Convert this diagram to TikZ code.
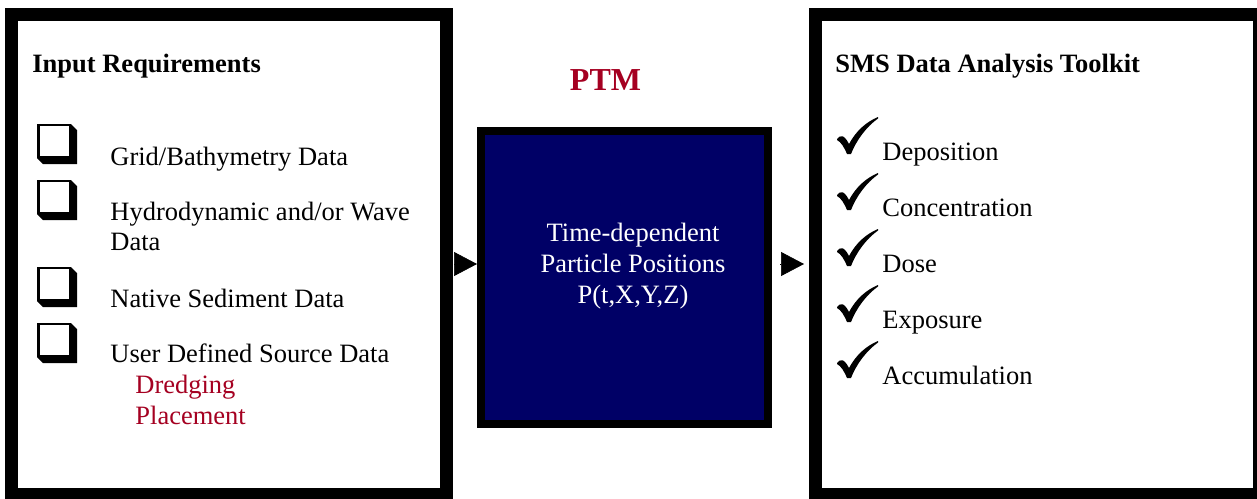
\documentclass[tikz,border=0pt]{standalone}
\usepackage{fontspec}
\setmainfont{Liberation Serif}
\usepackage{tikz}
\usetikzlibrary{arrows.meta}
\definecolor{ptmred}{RGB}{165,0,33}
\definecolor{ptmnavy}{RGB}{0,0,102}
\tikzset{
	panelstyle/.style={rectangle,draw=black,fill=white,line width=6.5pt,minimum height=240pt},
	modelstyle/.style={rectangle,draw=black,fill=ptmnavy,line width=4pt,minimum width=143.5pt,minimum height=146.5pt},
	itemstyle/.style={anchor=base west,inner sep=0pt,font=\fontsize{13.25}{15}\selectfont},
	headstyle/.style={itemstyle,font=\fontsize{13.25}{15}\selectfont\bfseries},
	flowstyle/.style={-{Triangle[length=11.5pt,width=12pt]},line width=0.3pt},
	tickbox/.pic={
		\fill (0,0) -- (34,0) -- (40,6) -- (40,40) -- (6,40) -- (0,34) -- cycle;
		\fill[white] (3,2) rectangle (32,32);
	},
	tickmark/.pic={
		\fill (1,22) .. controls (4,18) and (8,17) .. (13,27) .. controls (20,14) and (30,5) .. (42,0)
			-- (42,1.5) .. controls (30,10) and (20,24) .. (15,37) -- (11,37)
			.. controls (8,30) and (5,25) .. (1,23) -- cycle;
	}
}
\begin{document}
\begin{tikzpicture}[x=0.5pt,y=-0.5pt]
	\useasboundingbox (0,0) rectangle (1257,498);
	\node[panelstyle,minimum width=217.5pt] (input) at (229,254.5) {};
	\node[panelstyle,minimum width=222.25pt] (toolkit) at (1037.25,254.5) {};
	\node[modelstyle] (ptm) at (624.5,277.5) {};
	\node[headstyle] (inputhead) at (32,72) {Input Requirements};
	\node[headstyle] (toolkithead) at (835,72) {SMS Data Analysis Toolkit};
	\node[anchor=base,inner sep=0pt,font=\fontsize{16}{18}\selectfont\bfseries,text=ptmred] (ptmhead) at (605.5,90) {PTM};
	\node[itemstyle,align=center,anchor=base,text=white,font=\fontsize{13.25}{15.5}\selectfont] (ptmtext) at (633,303) {Time-dependent\\Particle Positions\\P(t,X,Y,Z)};
	\pic at (37,124) {tickbox};
	\pic at (37,180) {tickbox};
	\pic at (37,267) {tickbox};
	\pic at (37,323) {tickbox};
	\node[itemstyle] (grid) at (110,165) {Grid/Bathymetry Data};
	\node[itemstyle,align=left] (hydro) at (110,250) {Hydrodynamic and/or Wave\\Data};
	\node[itemstyle] (native) at (110,307) {Native Sediment Data};
	\node[itemstyle] (user) at (110,362) {User Defined Source Data};
	\node[itemstyle,text=ptmred] (dredging) at (135,393) {Dredging};
	\node[itemstyle,text=ptmred] (placement) at (135,424) {Placement};
	\pic at (836,117) {tickmark};
	\pic at (836,173) {tickmark};
	\pic at (836,229) {tickmark};
	\pic at (836,285) {tickmark};
	\pic at (836,341) {tickmark};
	\node[itemstyle] (deposition) at (882,160) {Deposition};
	\node[itemstyle] (concentration) at (882,216) {Concentration};
	\node[itemstyle] (dose) at (882,272) {Dose};
	\node[itemstyle] (exposure) at (882,328) {Exposure};
	\node[itemstyle] (accumulation) at (882,384) {Accumulation};
	\draw[flowstyle,shorten <=0.5pt] ([yshift=-4.75pt]input.east) -- ([yshift=-4.75pt]input.east -| ptm.west);
	\draw[flowstyle,shorten <=4pt,shorten >=2.25pt] ([yshift=-4.75pt]input.east -| ptm.east) -- ([yshift=-4.75pt]input.east -| toolkit.west);
\end{tikzpicture}
\end{document}
